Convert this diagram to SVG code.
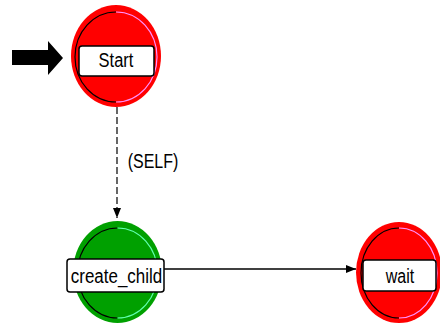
<svg xmlns="http://www.w3.org/2000/svg" width="440" height="326" viewBox="0 0 440 326">
<style>
.lbl{fill:#fff;stroke:#000;stroke-width:1.5}
.t{font-family:"Liberation Sans",Arial,sans-serif;font-size:16px;fill:#000;text-anchor:middle}
.dk{fill:none;stroke:#000;stroke-width:1.2}
.lp{fill:none;stroke:#ff90ff;stroke-width:1.2}
.lg{fill:none;stroke:#60ffb0;stroke-width:1.2}
</style>
<defs>
<marker id="ah" markerWidth="10" markerHeight="8" refX="10" refY="4" orient="auto" markerUnits="userSpaceOnUse">
<path d="M0,0 L10,4 L0,8 Z" fill="#000"/>
</marker>
</defs>
<rect width="440" height="326" fill="#fff"/>
<g id="connectors">
<line x1="117" y1="107" x2="117" y2="218" stroke="#000" stroke-width="1.2" stroke-dasharray="7,3" marker-end="url(#ah)"/>
<line x1="164" y1="269" x2="356" y2="269" stroke="#000" stroke-width="1.4" marker-end="url(#ah)"/>
<text class="t" transform="translate(153,168) scale(1,1.3)">(SELF)</text>
</g>
<g id="entry">
<polygon points="12,50 48,50 48,41 63,58 48,75 48,65 12,65" fill="#000"/>
</g>
<g id="start">
<ellipse cx="116" cy="56" rx="45" ry="51" fill="#ff0000"/>
<path class="dk" d="M116,12 A41,45 0 0 0 116,102"/>
<path class="lp" d="M116,12 A41,45 0 0 1 116,102"/>
<rect class="lbl" x="79" y="46" width="75" height="30" rx="3"/>
<text class="t" transform="translate(116,66.5) scale(1.03,1.3)">Start</text>
</g>
<g id="create_child">
<ellipse cx="117.5" cy="272" rx="44.5" ry="51" fill="#00a000"/>
<path class="dk" d="M117.5,228 A40,45 0 0 0 117.5,318"/>
<path class="lg" d="M117.5,228 A40,45 0 0 1 117.5,318"/>
<rect class="lbl" x="67" y="259" width="97" height="33" rx="3"/>
<text class="t" transform="translate(116.5,283) scale(1.06,1.3)">create_child</text>
</g>
<g id="wait">
<ellipse cx="399" cy="272.5" rx="43" ry="50.5" fill="#ff0000"/>
<path class="dk" d="M399,228 A38,45 0 0 0 399,318"/>
<path class="lp" d="M399,228 A38,45 0 0 1 399,318"/>
<rect class="lbl" x="363" y="260" width="73" height="31" rx="3"/>
<text class="t" transform="translate(400,283) scale(1,1.3)">wait</text>
</g>
</svg>
